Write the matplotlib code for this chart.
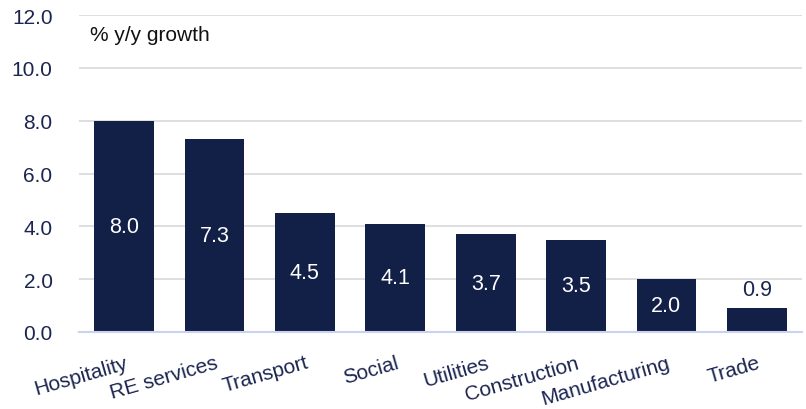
import matplotlib
matplotlib.use("Agg")
import matplotlib.pyplot as plt

categories = ["Hospitality", "RE services", "Transport", "Social", "Utilities",
              "Construction", "Manufacturing", "Trade"]
growth = [8.0, 7.3, 4.5, 4.1, 3.7, 3.5, 2.0, 0.9]
yticks = [0.0, 2.0, 4.0, 6.0, 8.0, 10.0, 12.0]

navy = "#121f46"
text_col = "#1b2550"

plt.rcParams["font.family"] = ["Liberation Sans", "DejaVu Sans"]

fig = plt.figure(figsize=(8.06, 4.10), dpi=100)
ax = fig.add_axes([79 / 806, (410 - 333) / 410, 723 / 806, 317 / 410])

x = range(len(categories))
bars = ax.bar(x, growth, width=0.66, color=navy, zorder=3)

for xi, v in zip(x, growth):
    if v >= 1.5:
        ax.text(xi, v / 2, f"{v:.1f}", ha="center", va="center",
                color="white", fontsize=15.5, zorder=4)
    else:
        ax.text(xi, v + 0.3, f"{v:.1f}", ha="center", va="bottom",
                color=text_col, fontsize=15.5, zorder=4)

ax.set_xlim(-0.5, len(categories) - 0.5)
ax.set_ylim(0, 12)
ax.set_yticks(yticks)
ax.set_yticklabels([f"{t:.1f}" for t in yticks], fontsize=15, color=text_col)
ax.tick_params(axis="y", length=0, pad=19)
ax.grid(axis="y", color="#d9d9d9", linewidth=1.2, zorder=0)

ax.set_xticks(list(x))
ax.set_xticklabels(categories, rotation=16, ha="right", rotation_mode="anchor",
                   fontsize=15, color=text_col)
ax.tick_params(axis="x", length=0, pad=15)

for side in ["top", "right", "left"]:
    ax.spines[side].set_visible(False)
ax.spines["bottom"].set_color("#c9d3f0")
ax.spines["bottom"].set_linewidth(1.5)
ax.spines["bottom"].set_zorder(5)

ax.text(0.0148, 0.94, "% y/y growth", transform=ax.transAxes, fontsize=15,
        color="#111111", va="center", ha="left")

fig.savefig("out.png", dpi=100)
